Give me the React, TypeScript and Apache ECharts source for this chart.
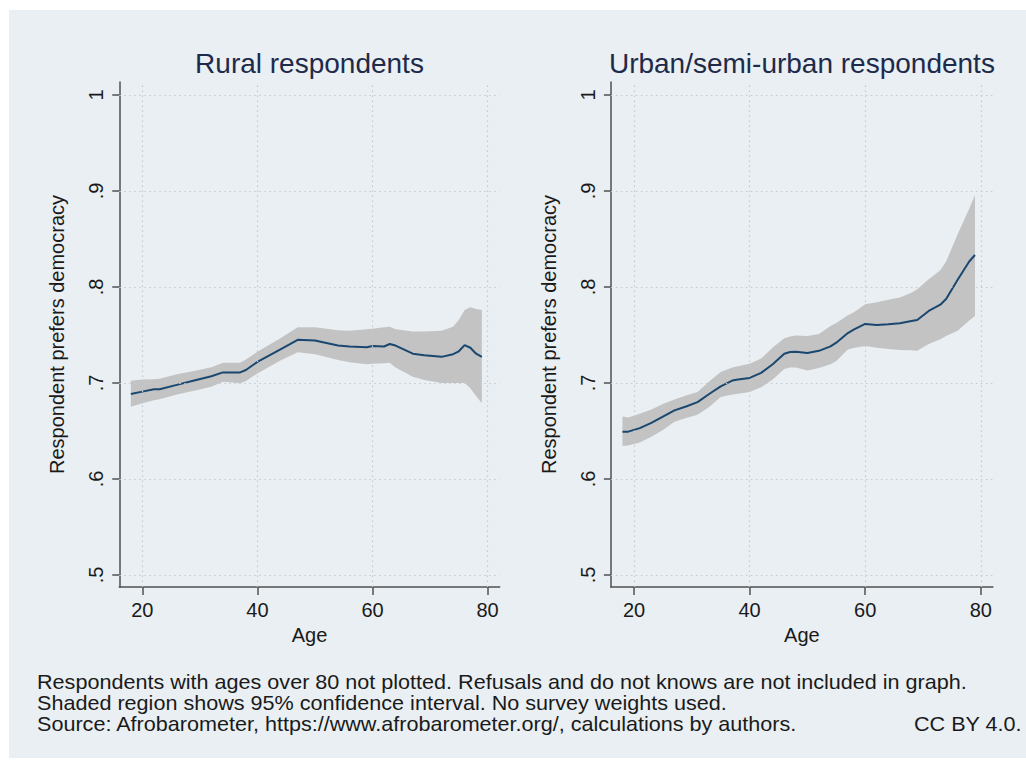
import React, { useEffect, useRef } from "react";
import * as echarts from "echarts";

// Share preferring democracy by age, local means with 95% confidence bands
const ruralAges = [18, 20, 22, 23, 26, 29, 32, 34, 37, 38, 40, 44, 47, 50, 54, 56, 59, 60, 62, 63, 64, 67, 69, 72, 74, 75, 76, 77, 78, 79];
const ruralMean = [0.6885, 0.691, 0.6934, 0.6934, 0.698, 0.7025, 0.707, 0.711, 0.711, 0.7135, 0.722, 0.735, 0.745, 0.7442, 0.739, 0.738, 0.7372, 0.7385, 0.738, 0.7406, 0.739, 0.7305, 0.729, 0.7272, 0.73, 0.733, 0.7395, 0.7367, 0.7305, 0.7272];
const ruralUpper = [0.7024, 0.7035, 0.704, 0.7045, 0.709, 0.7125, 0.7165, 0.721, 0.721, 0.7245, 0.7326, 0.7465, 0.758, 0.758, 0.755, 0.7545, 0.756, 0.7565, 0.758, 0.7587, 0.756, 0.7535, 0.7535, 0.7545, 0.7587, 0.7655, 0.776, 0.779, 0.777, 0.776];
const ruralLower = [0.6753, 0.679, 0.682, 0.683, 0.688, 0.692, 0.696, 0.7014, 0.6997, 0.702, 0.71, 0.7235, 0.732, 0.73, 0.724, 0.7215, 0.7195, 0.72, 0.7205, 0.721, 0.716, 0.7066, 0.703, 0.7, 0.7, 0.7, 0.7, 0.6945, 0.6865, 0.679];

const urbanAges = [18, 19, 21, 23, 25, 27, 29, 31, 33, 35, 37, 38, 40, 42, 44, 46, 47, 48, 50, 52, 54, 55, 57, 58, 60, 62, 64, 66, 68, 69, 71, 73, 74, 76, 78, 79];
const urbanMean = [0.6493, 0.6493, 0.653, 0.6585, 0.665, 0.6715, 0.6755, 0.68, 0.6885, 0.6965, 0.7025, 0.7037, 0.7053, 0.7105, 0.7195, 0.7305, 0.7322, 0.7325, 0.7312, 0.7335, 0.7382, 0.742, 0.752, 0.7555, 0.7615, 0.7605, 0.7613, 0.7622, 0.7645, 0.7656, 0.775, 0.7815, 0.7875, 0.8075, 0.8265, 0.8333];
const urbanUpper = [0.665, 0.664, 0.668, 0.6725, 0.678, 0.6828, 0.687, 0.6905, 0.7015, 0.7115, 0.716, 0.7175, 0.72, 0.7255, 0.737, 0.7465, 0.7485, 0.7495, 0.749, 0.751, 0.7593, 0.7625, 0.7705, 0.7735, 0.782, 0.7842, 0.7866, 0.789, 0.794, 0.7976, 0.808, 0.8175, 0.8265, 0.855, 0.8815, 0.8958];
const urbanLower = [0.6344, 0.635, 0.638, 0.644, 0.651, 0.6595, 0.6635, 0.667, 0.675, 0.6855, 0.688, 0.6888, 0.6905, 0.6955, 0.7035, 0.7145, 0.716, 0.7162, 0.713, 0.7155, 0.7195, 0.723, 0.735, 0.7365, 0.7385, 0.7368, 0.7355, 0.7344, 0.734, 0.7337, 0.7405, 0.7455, 0.749, 0.7545, 0.765, 0.7698];

const panelTitles = ["Rural respondents", "Urban/semi-urban respondents"];
const xTicks = [20, 40, 60, 80];
const yTicks = [0.5, 0.6, 0.7, 0.8, 0.9, 1];
const xAxisTitle = "Age";
const yAxisTitle = "Respondent prefers democracy";
const noteLines = [
  "Respondents with ages over 80 not plotted. Refusals and do not knows are not included in graph.",
  "Shaded region shows 95% confidence interval. No survey weights used.",
  "Source: Afrobarometer, https://www.afrobarometer.org/, calculations by authors.",
];
const licenseText = "CC BY 4.0.";

const FONT = "'Liberation Sans', Arial, Helvetica, sans-serif";
const TEXT = "#1a1a1a";
const TITLE = "#1e2a4a";
const AXIS = "#505050";
const GRID = "#c3cacf";
const LINE = "#1a476f";
const BAND = "#c3c3c3";
const PANEL_BG = "#e9eff2";

const panels = [
  { ages: ruralAges, mean: ruralMean, upper: ruralUpper, lower: ruralLower, left: 119.3, width: 380.4 },
  { ages: urbanAges, mean: urbanMean, upper: urbanUpper, lower: urbanLower, left: 610.9, width: 382 },
];

const PLOT_TOP = 82;
const PLOT_H = 505;
const NOTE_SIZE = 20;
const NOTE_STRETCH = 1.08;

function buildOption(): any {
  const grid = panels.map((p) => ({
    left: p.left,
    top: PLOT_TOP,
    width: p.width,
    height: PLOT_H,
    containLabel: false,
    outerBoundsMode: "none",
  }));

  const xAxis = panels.map((_, i) => ({
    type: "value",
    gridIndex: i,
    min: 16,
    max: 82.1,
    name: xAxisTitle,
    nameLocation: "middle",
    nameGap: 31,
    nameTextStyle: { fontSize: 20, color: TEXT, fontFamily: FONT },
    axisLine: { show: true, onZero: false, lineStyle: { color: AXIS, width: 1.5 } },
    axisTick: { show: true, length: 8, customValues: xTicks, lineStyle: { color: AXIS, width: 1.5 } },
    axisLabel: { show: true, customValues: xTicks, fontSize: 20, color: TEXT, fontFamily: FONT, margin: 13 },
    splitLine: { show: false },
  }));

  const yAxis = panels.map((_, i) => ({
    type: "value",
    gridIndex: i,
    min: 0.4875,
    max: 1.0135,
    name: yAxisTitle,
    nameLocation: "middle",
    nameRotate: 90,
    nameGap: 52,
    nameTextStyle: { fontSize: 20, color: TEXT, fontFamily: FONT },
    axisLine: { show: true, onZero: false, lineStyle: { color: AXIS, width: 1.5 } },
    axisTick: { show: true, length: 7, customValues: yTicks, lineStyle: { color: AXIS, width: 1.5 } },
    axisLabel: {
      show: true,
      customValues: yTicks,
      rotate: 90,
      fontSize: 20,
      color: TEXT,
      fontFamily: FONT,
      margin: 13,
      formatter: (v: number) => (v >= 0.999 ? "1" : "." + Math.round(v * 10)),
    },
    splitLine: { show: false },
  }));

  const series: any[] = [];
  panels.forEach((p, i) => {
    // dotted reference grid at the tick positions
    series.push({
      type: "line",
      xAxisIndex: i,
      yAxisIndex: i,
      data: [],
      silent: true,
      z: 1,
      markLine: {
        silent: true,
        symbol: ["none", "none"],
        label: { show: false },
        lineStyle: { type: [1.5, 3.5], color: GRID, width: 1.2 },
        data: [
          ...xTicks.map((v) => ({ xAxis: v })),
          ...yTicks.map((v) => ({ yAxis: v })),
        ],
      },
    });
    // 95% confidence band drawn as one closed polygon: upper edge, then lower edge back
    series.push({
      type: "custom",
      xAxisIndex: i,
      yAxisIndex: i,
      silent: true,
      z: 2,
      encode: { x: 0, y: [1, 2] },
      data: p.ages.map((a, k) => [a, p.lower[k], p.upper[k]]),
      renderItem: (params: any, api: any) => {
        if (params.dataIndex !== 0) return null;
        const pts: number[][] = [];
        for (let k = 0; k < p.ages.length; k++) pts.push(api.coord([p.ages[k], p.upper[k]]));
        for (let k = p.ages.length - 1; k >= 0; k--) pts.push(api.coord([p.ages[k], p.lower[k]]));
        return { type: "polygon", shape: { points: pts }, style: { fill: BAND } };
      },
    });
    series.push({
      type: "line",
      xAxisIndex: i,
      yAxisIndex: i,
      symbol: "none",
      silent: true,
      z: 3,
      lineStyle: { color: LINE, width: 2 },
      data: p.ages.map((a, k) => [a, p.mean[k]]),
    });
  });

  const noteText = (t: string, x: number, k: number) => ({
    type: "text",
    x,
    y: 681.7 + k * 20.8,
    scaleX: NOTE_STRETCH,
    silent: true,
    style: {
      text: t,
      fontSize: NOTE_SIZE,
      fontFamily: FONT,
      fill: TEXT,
      textAlign: "left",
      textVerticalAlign: "middle",
    },
  });

  const graphic: any[] = [
    {
      type: "rect",
      z: -100,
      silent: true,
      shape: { x: 9, y: 10, width: 1017, height: 748 },
      style: { fill: PANEL_BG },
    },
    ...panels.map((p, i) => ({
      type: "text",
      x: p.left + p.width / 2,
      y: 63.5,
      silent: true,
      style: {
        text: panelTitles[i],
        fontSize: 28,
        fontFamily: FONT,
        fill: TITLE,
        textAlign: "center",
        textVerticalAlign: "middle",
      },
    })),
    ...noteLines.map((t, k) => noteText(t, 37, k)),
    noteText(licenseText, 914, 2),
  ];

  return {
    animation: false,
    backgroundColor: "#ffffff",
    grid,
    xAxis,
    yAxis,
    series,
    graphic,
  };
}

export default function App() {
  const ref = useRef<HTMLDivElement>(null);
  useEffect(() => {
    if (!ref.current) return;
    const chart = echarts.init(ref.current, null, { renderer: "svg" });
    chart.setOption(buildOption());
    return () => chart.dispose();
  }, []);
  return (
    <div
      ref={ref}
      style={{ position: "fixed", left: 0, top: 0, width: 1026, height: 767, background: "#fff" }}
    />
  );
}
